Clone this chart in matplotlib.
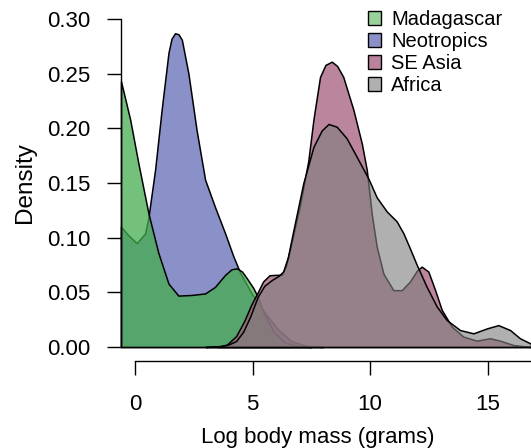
import matplotlib
matplotlib.use('Agg')
import matplotlib.pyplot as plt
from matplotlib.patches import Patch

plt.rcParams['font.family'] = ['Liberation Sans', 'DejaVu Sans']

# densities (log body mass, density)
madagascar_x = [-0.6, -0.21, 0.14, 0.57, 0.99, 1.42, 1.84, 2.41, 2.98, 3.40, 3.83, 4.10,
                4.33, 4.55, 4.75, 5.03, 5.25, 5.46, 5.89, 6.17, 6.38, 7.0, 7.5]
madagascar_y = [0.243, 0.208, 0.168, 0.122, 0.086, 0.058, 0.047, 0.0476, 0.049, 0.055, 0.066, 0.071,
                0.072, 0.069, 0.063, 0.054, 0.0445, 0.032, 0.014, 0.008, 0.004, 0.0005, 0.0]

neotropics_x = [-0.6, -0.28, 0.07, 0.43, 0.57, 0.85, 1.13, 1.42, 1.55, 1.70, 1.85, 1.99, 2.27,
                2.62, 2.98, 3.40, 3.83, 4.18, 4.47, 4.96, 5.53, 6.10, 6.67, 7.3, 8.0]
neotropics_y = [0.110, 0.102, 0.095, 0.104, 0.119, 0.162, 0.217, 0.269, 0.282, 0.287, 0.286, 0.281, 0.250,
                0.198, 0.153, 0.128, 0.104, 0.083, 0.068, 0.049, 0.031, 0.0155, 0.005, 0.001, 0.0]

seasia_x = [3.5, 3.9, 4.3, 4.65, 4.95, 5.22, 5.45, 5.72, 6.0, 6.24, 6.42, 6.6, 7.02, 7.37, 7.59,
            7.87, 8.10, 8.37, 8.60, 8.86, 9.29, 9.65, 9.86, 10.07, 10.28, 10.57, 10.99, 11.35,
            11.70, 12.0, 12.2, 12.48, 12.77, 13.05, 13.48, 13.97, 14.54, 15.1, 15.53, 16.1, 16.7, 16.85]
seasia_y = [0.0, 0.002, 0.010, 0.024, 0.039, 0.050, 0.060, 0.0656, 0.066, 0.066, 0.074, 0.090, 0.130, 0.170, 0.208,
            0.247, 0.258, 0.261, 0.257, 0.247, 0.217, 0.186, 0.162, 0.122, 0.092, 0.067, 0.052, 0.052,
            0.060, 0.070, 0.0735, 0.069, 0.052, 0.034, 0.0186, 0.0095, 0.0058, 0.008, 0.0058, 0.0018, 0.0003, 0.0]

africa_x = [3.0, 3.6, 4.0, 4.3, 4.6, 4.9, 5.22, 5.5, 5.8, 6.1, 6.3, 6.5, 6.74, 7.16, 7.59, 7.94,
            8.23, 8.58, 9.0, 9.43, 9.93, 10.28, 10.71, 11.13, 11.42, 11.70, 11.99, 12.41, 12.84,
            13.26, 13.83, 14.40, 14.97, 15.46, 15.96, 16.38, 16.85]
africa_y = [0.0, 0.0008, 0.0025, 0.0055, 0.014, 0.028, 0.046, 0.056, 0.061, 0.065, 0.069, 0.082, 0.107, 0.150, 0.183, 0.198,
            0.204, 0.2015, 0.191, 0.174, 0.154, 0.137, 0.124, 0.115, 0.104, 0.090, 0.075, 0.055, 0.037,
            0.0247, 0.0155, 0.0125, 0.017, 0.020, 0.0155, 0.008, 0.003]

labels = ['Madagascar', 'Neotropics', 'SE Asia', 'Africa']
fill_cols = {'Neotropics': (99/255, 107/255, 182/255, 0.75),
             'Madagascar': (68/255, 173/255, 77/255, 0.75),
             'SE Asia': (164/255, 92/255, 124/255, 0.75),
             'Africa': (128/255, 128/255, 128/255, 0.62)}
legend_cols = ['#98D29A', '#8C90C8', '#B9839B', '#B0B0B0']

fig = plt.figure(figsize=(5.31, 4.48), dpi=100)
ax = fig.add_axes([121/531, 101/448, 410/531, 328/448])

series = [('Neotropics', neotropics_x, neotropics_y),
          ('Madagascar', madagascar_x, madagascar_y),
          ('SE Asia', seasia_x, seasia_y),
          ('Africa', africa_x, africa_y)]
for name, xs, ys in series:
    ax.fill_between(xs, ys, 0, facecolor=fill_cols[name], edgecolor='black',
                    linewidth=1.1, clip_on=False)

ax.set_xlim(-0.6, 16.85)
ax.set_ylim(0, 0.30)
for s in ['top', 'right']:
    ax.spines[s].set_visible(False)
ax.spines['left'].set_bounds(0, 0.30)
ax.spines['bottom'].set_position(('outward', 10))
ax.spines['bottom'].set_bounds(0, 16.85)
for s in ['left', 'bottom']:
    ax.spines[s].set_linewidth(1.0)

ax.set_yticks([0, 0.05, 0.10, 0.15, 0.20, 0.25, 0.30])
ax.set_yticklabels(['0.00', '0.05', '0.10', '0.15', '0.20', '0.25', '0.30'])
ax.set_xticks([0, 5, 10, 15])
ax.tick_params(direction='out', length=10, width=1.0, labelsize=16)
ax.tick_params(axis='y', pad=12)
ax.tick_params(axis='x', pad=14)

ax.set_xlabel('Log body mass (grams)', fontsize=16, va='center')
ax.xaxis.set_label_coords((318 - 121) / 410, (347 - 437) / 328)
ax.set_ylabel('Density', fontsize=17.5, va='center')
ax.yaxis.set_label_coords((25 - 121) / 410, 0.5)

handles = [Patch(facecolor=c, edgecolor='black', linewidth=1.0) for c in legend_cols]
ax.legend(handles, labels, loc='upper left', bbox_to_anchor=(368/531, (448 - 10)/448),
          bbox_transform=fig.transFigure, frameon=False, borderpad=0, borderaxespad=0,
          handlelength=0.65, handleheight=0.65, handletextpad=0.5, labelspacing=0.15,
          fontsize=14.5)

fig.savefig('out.png', dpi=100)
